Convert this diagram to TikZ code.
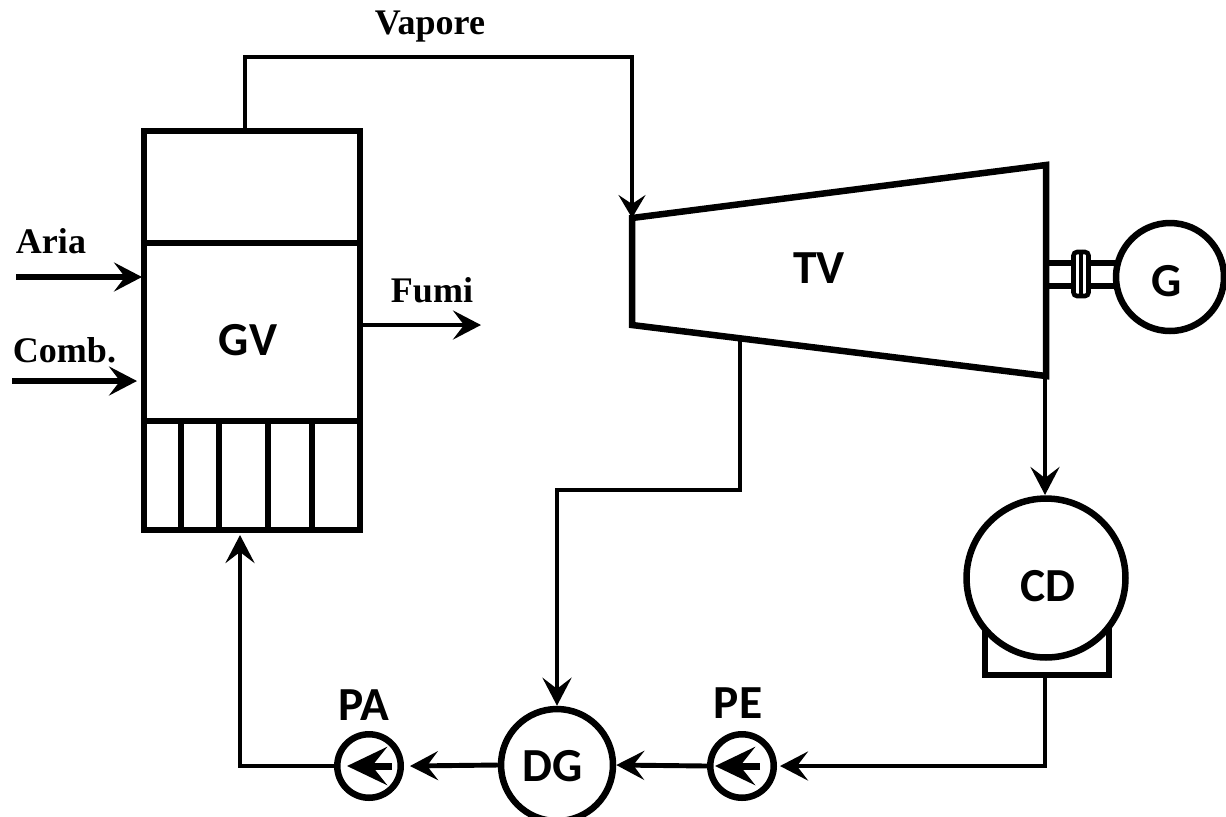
\documentclass[tikz,border=0pt]{standalone}
\usepackage{fontspec}
\setmainfont{Liberation Serif}
\newfontfamily\plantfont{Carlito}
\usetikzlibrary{arrows.meta}
\tikzset{
  flowarrow/.style={-{Stealth[length=0.56cm,width=0.58cm,inset=0.22cm]}, line width=2.8pt},
  airarrow/.style={flowarrow, line width=3.4pt},
  steamarrow/.style={-{Stealth[length=0.46cm,width=0.54cm,inset=0.18cm]}, line width=2.3pt},
  pumparrow/.style={-{Stealth[length=0.8cm,width=0.76cm,inset=0.3cm]}, line width=4pt},
  unit/.style={draw, line width=3.7pt, inner sep=0pt},
  roundunit/.style={unit, circle},
  wall/.style={line width=3.1pt},
  flowlabel/.style={inner sep=0pt, font=\bfseries\fontsize{20.5}{24}\selectfont},
  plantlabel/.style={inner sep=0pt, font=\plantfont\bfseries\fontsize{27}{30}\selectfont}
}
\begin{document}
\begin{tikzpicture}[x=0.02cm, y=-0.02cm]
  \useasboundingbox (0,0) rectangle (1226,816);
  % boiler
  \node[unit, minimum width=4.32cm, minimum height=7.98cm] (gvbox) at (252,330.5) {};
  \node[plantlabel] (gv) at (248,340) {GV};
  \coordinate (gvtop) at (245,131);
  \coordinate (gvfeed) at (240,535);
  \coordinate (aria) at (16,277);
  \coordinate (ariain) at (142,277);
  \coordinate (comb) at (12,381);
  \coordinate (combin) at (137,381);
  \coordinate (fumiout) at (360,325);
  \coordinate (fumiend) at (481,325);
  \draw[wall] (gvbox.west |- 0,243) -- (gvbox.east |- 0,243);
  \draw[wall] (gvbox.west |- 0,421) -- (gvbox.east |- 0,421);
  \foreach \tubex in {181,219,268,312}
    \draw[wall] (\tubex,421) -- (\tubex,530);
  % turbine
  \coordinate (tvtl) at (632,218);
  \coordinate (tvtr) at (1046,165);
  \coordinate (tvbr) at (1046,376);
  \coordinate (tvbl) at (632,325);
  \draw[unit, line join=miter] (tvtl) -- (tvtr) -- (tvbr) -- (tvbl) -- cycle;
  \node[plantlabel] (tv) at (819,268) {TV};
  \coordinate (tvbleed) at (740,340);
  % generator
  \node[roundunit, minimum size=2.16cm] (g) at (1170,277) {};
  \node[plantlabel] (glabel) at (1167,281) {G};
  \draw[line width=3.2pt] (1046,263) -- (1116,263);
  \draw[line width=3pt] (1046,286) -- (1116,286);
  \node[draw, fill=white, line width=2.6pt, rounded corners=2pt, minimum width=0.3cm, minimum height=0.88cm, inner sep=0pt] (coupling) at (1081,274) {};
  \draw[line width=2pt] (coupling.north) -- (coupling.south);
  % condenser
  \draw[unit] (985,625) -- (985,675) -- (1109,675) -- (1109,625);
  \node[roundunit, fill=white, minimum size=3.18cm] (cd) at (1046,578) {};
  \node[plantlabel] (cdlabel) at (1048,586) {CD};
  \coordinate (cdout) at (1045,677);
  \coordinate (tvout) at (1045,376);
  \coordinate (cdin) at (1045,495);
  % pumps and deaerator
  \node[roundunit, minimum size=2.24cm] (dg) at (557,765) {};
  \node[plantlabel] (dglabel) at (553,766) {DG};
  \node[roundunit, minimum size=1.27cm] (pe) at (742,766) {};
  \node[roundunit, minimum size=1.27cm] (pa) at (369,766) {};
  \node[plantlabel] (pelabel) at (738,703) {PE};
  \node[plantlabel] (palabel) at (364,705) {PA};
  \coordinate (peinner) at (760,766);
  \coordinate (petip) at (715,766);
  \coordinate (painner) at (392,766);
  \coordinate (patip) at (347,766);
  \coordinate (feedcorner) at (240,766);
  \coordinate (peentry) at (780,766);
  \coordinate (paentry) at (410,766);
  \draw[pumparrow] (peinner) -- (petip);
  \draw[pumparrow] (painner) -- (patip);
  % flows
  \draw[steamarrow] (gvtop) -- (245,57) -- (632,57) -- (tvtl);
  \draw[flowarrow] (tvbleed) -- (740,490) -- (557,490) -- (dg.north);
  \draw[flowarrow] (tvout) -- (cdin);
  \draw[flowarrow] (cdout) -- (1045,766) -- (peentry);
  \draw[flowarrow] (pe.west) -- (dg.east);
  \draw[flowarrow] (dg.west) -- (paentry);
  \draw[flowarrow] (pa.west) -- (feedcorner) -- (gvfeed);
  \draw[airarrow] (aria) -- (ariain);
  \draw[airarrow] (comb) -- (combin);
  \draw[flowarrow] (fumiout) -- (fumiend);
  % labels
  \node[flowlabel] (vapore) at (430,27) {Vapore};
  \node[flowlabel] (arialabel) at (51,241) {Aria};
  \node[flowlabel] (comblabel) at (64.5,350) {Comb.};
  \node[flowlabel] (fumilabel) at (432,290) {Fumi};
\end{tikzpicture}
\end{document}
